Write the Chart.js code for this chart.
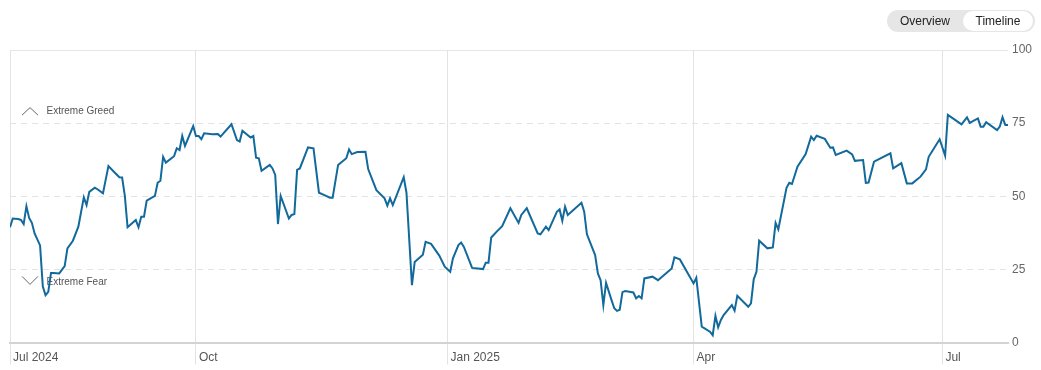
<!DOCTYPE html>
<html>
<head>
<meta charset="utf-8">
<script src="https://cdn.jsdelivr.net/npm/chart.js@4.4.1/dist/chart.umd.min.js"></script>
<style>
  html, body { margin: 0; padding: 0; background: #fff; }
  #wrap { position: relative; width: 1041px; height: 370px; }
  #chart { position: absolute; left: 0; top: 0; }
  .toggle {
    position: absolute; left: 887px; top: 10px; width: 148px; height: 22px;
    border-radius: 11px; background: #e6e6e6;
    font: 12px "Liberation Sans", Arial, sans-serif; color: #222;
  }
  .toggle span { position: absolute; top: 0; height: 22px; line-height: 22px; }
  .toggle .ov { left: 13px; }
  .toggle .tl {
    left: 76px; top: 1px; width: 70px; height: 20px; line-height: 20px;
    background: #fff; border-radius: 10px; text-align: center;
  }
</style>
</head>
<body>
<div id="wrap">
  <canvas id="chart" width="1041" height="370"></canvas>
  <div class="toggle"><span class="ov">Overview</span><span class="tl">Timeline</span></div>
</div>
<script>
// day numbers are counted from 2024-07-25, the left edge of the one-year window
const days = [
  0, 1, 3, 4, 5, 6, 7, 8, 9, 11, 12, 13, 14, 15, 16, 18, 20, 21, 23, 25,
  27, 28, 29, 31, 32, 34, 36, 38, 40, 41, 42, 43, 46, 47, 48, 49, 50, 53, 54, 55,
  56, 57, 60, 61, 62, 63, 64, 67, 68, 69, 70, 71, 74, 76, 77, 81, 83, 84, 85, 88,
  89, 90, 91, 92, 95, 96, 97, 98, 99, 102, 103, 104, 105, 106, 109, 111, 113, 115, 117, 118,
  120, 123, 124, 125, 127, 130, 131, 134, 137, 138, 139, 140, 144, 145, 147, 148, 151, 152, 154, 157,
  159, 161, 162, 164, 165, 166, 169, 173, 174, 175, 176, 178, 180, 183, 186, 187, 189, 193, 194, 196,
  197, 200, 201, 202, 203, 204, 209, 210, 211, 214, 215, 216, 217, 218, 220, 221, 222, 223, 224, 225,
  228, 229, 230, 231, 232, 235, 237, 242, 243, 245, 250, 251, 253, 256, 257, 258, 259, 260, 261, 264,
  265, 266, 270, 271, 272, 273, 274, 277, 279, 280, 281, 284, 285, 286, 288, 291, 293, 294, 295, 298,
  300, 301, 302, 306, 308, 309, 312, 313, 314, 316, 322, 323, 326, 328, 330, 333, 335, 336, 340, 342,
  343, 348, 350, 351, 354, 355, 356, 357, 361, 362, 363, 364, 365
];
const values = [
  39.4, 42.4, 42.2, 41.9, 40.5, 46.6, 42.6, 40.9, 37.3, 33.2, 19.1, 16.2, 17.3, 23.8, 23.8, 23.6, 26.1, 32.2, 34.8, 39.6,
  49.6, 47.0, 51.5, 52.9, 52.4, 51.0, 60.3, 58.4, 56.5, 56.4, 50.1, 39.4, 41.9, 39.4, 43.0, 43.0, 48.5, 50.1, 54.6, 55.3,
  63.5, 61.5, 63.7, 66.4, 65.8, 70.6, 67.2, 74.0, 70.6, 70.6, 69.5, 71.5, 71.2, 71.3, 70.4, 74.6, 69.2, 68.7, 72.4, 70.1,
  70.6, 63.2, 63.0, 58.7, 60.7, 59.5, 57.3, 40.5, 50.1, 42.4, 43.6, 43.9, 59.0, 59.5, 66.7, 66.4, 51.2, 50.4, 49.5, 49.5,
  60.7, 63.0, 66.0, 64.4, 65.1, 65.2, 59.3, 52.1, 49.3, 46.8, 49.3, 47.0, 56.5, 51.2, 19.6, 27.5, 30.0, 34.4, 33.7, 29.7,
  25.9, 24.2, 28.8, 33.3, 34.2, 32.7, 25.5, 25.1, 27.3, 27.3, 35.9, 37.9, 39.8, 45.9, 40.9, 43.6, 45.9, 37.3, 37.0, 39.6,
  38.4, 44.7, 45.5, 41.6, 46.4, 43.6, 47.8, 44.7, 37.0, 29.9, 23.6, 21.3, 12.8, 20.4, 14.5, 11.7, 10.8, 11.2, 17.2, 17.6,
  17.1, 15.1, 15.9, 15.1, 21.9, 22.5, 21.3, 25.3, 29.1, 28.4, 20.2, 22.1, 5.4, 3.7, 2.5, 9.1, 5.2, 7.7, 9.4, 12.8,
  10.9, 16.0, 12.2, 13.4, 21.6, 24.2, 34.8, 32.2, 32.5, 40.9, 38.7, 52.9, 54.6, 54.2, 60.1, 64.4, 70.4, 69.2, 70.7, 69.6,
  66.6, 66.7, 64.1, 65.6, 64.3, 62.1, 62.4, 54.6, 54.7, 61.8, 64.7, 59.5, 61.3, 54.4, 54.4, 56.7, 59.2, 63.5, 69.5, 63.9,
  77.8, 74.6, 77.0, 75.1, 76.6, 73.8, 73.8, 75.3, 72.6, 73.8, 77.0, 74.4, 74.4
];

const tickDays = [0, 68, 160, 250, 341];
const tickLabels = ['Jul 2024', 'Oct', 'Jan 2025', 'Apr', 'Jul'];
const yTicks = [0, 25, 50, 75, 100];
const zoneValues = [75, 25];
const zoneLabels = ['Extreme Greed', 'Extreme Fear'];

const FONT = '"Liberation Sans", Arial, sans-serif';

// horizontal guide lines: solid at the top, dashed in between
const guideLines = {
  id: 'guideLines',
  beforeDatasetsDraw(chart) {
    const { ctx, chartArea, scales } = chart;
    ctx.save();
    yTicks.forEach(v => {
      if (v === 0) return;
      const y = Math.round(scales.y.getPixelForValue(v)) + 0.5;
      ctx.beginPath();
      ctx.lineWidth = 1;
      if (v === 100) {
        ctx.strokeStyle = '#e6e6e6';
        ctx.setLineDash([]);
      } else {
        ctx.strokeStyle = '#e3e3e3';
        ctx.setLineDash([6, 5]);
      }
      ctx.moveTo(chartArea.left, y);
      ctx.lineTo(chartArea.right, y);
      ctx.stroke();
    });
    ctx.restore();
  }
};

// "Extreme Greed" / "Extreme Fear" labels with chevrons
const zoneMarks = {
  id: 'zoneMarks',
  beforeDatasetsDraw(chart) {
    const { ctx, chartArea, scales } = chart;
    ctx.save();
    ctx.font = '10px ' + FONT;
    ctx.fillStyle = '#555';
    ctx.strokeStyle = '#666';
    ctx.lineWidth = 1;
    ctx.textBaseline = 'middle';
    zoneValues.forEach((v, i) => {
      const base = scales.y.getPixelForValue(v);
      const up = i === 0;
      const cy = up ? base - 11.5 : base + 13;
      const x0 = chartArea.left + 12;
      ctx.beginPath();
      if (up) {
        ctx.moveTo(x0, cy + 3.5);
        ctx.lineTo(x0 + 8, cy - 4);
        ctx.lineTo(x0 + 16, cy + 3.5);
      } else {
        ctx.moveTo(x0, cy - 6);
        ctx.lineTo(x0 + 8, cy + 2);
        ctx.lineTo(x0 + 16, cy - 6);
      }
      ctx.stroke();
      ctx.fillText(zoneLabels[i], chartArea.left + 36.5, cy);
    });
    ctx.restore();
  }
};

new Chart(document.getElementById('chart'), {
  type: 'line',
  data: {
    datasets: [{
      data: days.map((d, i) => ({ x: d, y: values[i] })),
      borderColor: '#12699c',
      borderWidth: 2,
      pointRadius: 0,
      tension: 0,
      fill: false
    }]
  },
  options: {
    responsive: false,
    animation: false,
    layout: { padding: { left: 10, right: 0, top: 50, bottom: 0 } },
    plugins: { legend: { display: false }, tooltip: { enabled: false } },
    scales: {
      x: {
        type: 'linear',
        min: 0,
        max: 365,
        afterBuildTicks: s => { s.ticks = tickDays.map(v => ({ value: v })); },
        afterFit: s => { s.height = 27.5; },
        ticks: {
          callback: v => tickLabels[tickDays.indexOf(v)],
          align: 'start',
          labelOffset: 3,
          padding: -14,
          maxRotation: 0,
          autoSkip: false,
          color: '#555',
          font: { family: FONT, size: 12 }
        },
        grid: { color: '#e3e3e3', lineWidth: 1, drawTicks: true, tickLength: 22, tickColor: '#e3e3e3' },
        border: { color: '#d3d3d3', width: 2 }
      },
      y: {
        position: 'right',
        min: 0,
        max: 100,
        afterBuildTicks: s => { s.ticks = yTicks.map(v => ({ value: v })); },
        afterFit: s => { s.width = 33; },
        ticks: { padding: 4, color: '#666', font: { family: FONT, size: 12 } },
        grid: { display: false, drawTicks: false },
        border: { display: false }
      }
    }
  },
  plugins: [guideLines, zoneMarks]
});
</script>
</body>
</html>
